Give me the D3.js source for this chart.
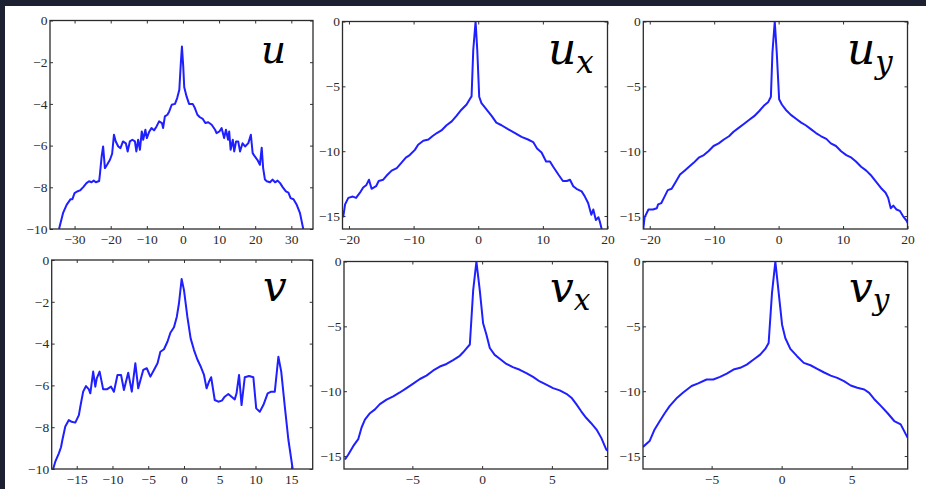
<!DOCTYPE html>
<html>
<head>
<meta charset="utf-8">
<script src="https://cdn.jsdelivr.net/npm/d3@7"></script>
<style>
  body { margin: 0; background: #1d2030; }
  svg { display: block; }
</style>
</head>
<body>
<svg id="chart" width="926" height="489"></svg>
<script>
// Values (x = offset, y = log value)

// u
var uX = [-34.3,-33.2,-32.2,-31.1,-30.6,-30,-29.3,-28.5,-27.6,-26.7,-26,-25.3,-24.7,-24.1,-23.2,-23,-22.5,-22.1,-21.6,-21,-20.2,-19.6,-19.1,-18.6,-17.9,-17.3,-16.6,-15.8,-15.3,-14.7,-14,-13.3,-12.9,-12.4,-11.9,-11.4,-11,-10.4,-10,-9.3,-8.7,-8,-7.3,-6.6,-5.8,-5.5,-5,-4.3,-3.8,-3.1,-2.2,-1.6,-1,-0.64,-0.28,0.08,0.36,1,1.7,2.7,3.3,4,4.7,5.5,6.2,7,7.95,8.9,9.3,10.1,10.7,11.4,11.9,12.5,12.8,13.2,13.8,14.2,14.7,15.3,15.8,16.5,17.2,18.1,18.8,19.3,19.9,20.6,21.3,21.8,22.2,22.7,23.2,24.1,24.8,25.5,26.2,26.9,27.6,28.5,29.2,29.8,30.6,31.5,32.4,33.3];
var uY = [-10,-9.24,-8.84,-8.57,-8.57,-8.28,-8.2,-8.15,-7.99,-7.8,-7.71,-7.76,-7.68,-7.76,-7.7,-7.4,-6.52,-6.04,-7.08,-6.92,-6.68,-6.39,-5.48,-5.8,-6.04,-6.12,-5.8,-5.89,-6.28,-5.8,-5.72,-5.8,-6.28,-5.72,-6.2,-5.32,-5.72,-5.24,-5.64,-5.32,-5.16,-5.27,-5.08,-4.84,-4.92,-5.16,-4.6,-4.52,-4.36,-4.04,-4.0,-3.72,-3.32,-2.2,-1.25,-2.2,-3.2,-3.64,-4.0,-4.0,-4.2,-4.52,-4.64,-4.72,-4.92,-4.88,-5.0,-5.24,-5.4,-5.32,-5.16,-5.64,-5.24,-5.72,-5.32,-6.2,-5.72,-6.28,-5.8,-5.8,-6.28,-5.89,-6.04,-5.88,-5.48,-6.36,-6.52,-6.68,-6.92,-6.1,-7.08,-7.63,-7.71,-7.76,-7.63,-7.76,-7.68,-7.8,-7.99,-8.2,-8.26,-8.52,-8.57,-8.84,-9.24,-10];

// u_x
var uxX = [-20.9,-20.6,-20.1,-19.4,-18.9,-18.3,-17.8,-17.3,-16.9,-16.5,-15.8,-15.4,-14.7,-14.2,-13.4,-12.6,-11.9,-11.2,-10.6,-9.8,-9.3,-8.5,-7.7,-7.1,-6.4,-5.7,-4.9,-4.1,-3.4,-2.6,-1.8,-1.2,-1.03,-0.77,-0.41,-0.15,0.15,0.5,1.3,2.1,2.8,3.6,4.6,5.7,6.7,7.7,8.5,9.1,9.8,10.5,11.1,11.6,12.4,13.1,13.7,14.2,14.7,15.2,16.0,16.5,17.0,17.5,17.8,18.2,18.6,18.8,19.1];
var uxY = [-15.1,-14.1,-13.6,-13.5,-13.6,-13.2,-12.8,-12.6,-12.2,-12.9,-12.7,-12.3,-12.2,-11.9,-11.5,-11.3,-10.9,-10.5,-10.3,-9.9,-9.5,-9.2,-9.1,-8.85,-8.6,-8.4,-8.0,-7.7,-7.3,-6.8,-6.4,-5.9,-5.77,-2.2,0,-2.2,-5.8,-6.3,-6.8,-7.3,-7.8,-8.0,-8.3,-8.6,-8.9,-9.1,-9.3,-9.8,-10.1,-10.8,-10.8,-11.2,-11.8,-12.3,-12.3,-12.2,-12.7,-12.9,-13.1,-13.5,-14.0,-14.9,-14.5,-15.3,-15.1,-15.4,-16];

// u_y
var uyX = [-21.0,-20.8,-20.2,-19.5,-18.9,-18.7,-18.2,-17.7,-17.2,-16.6,-16.0,-15.3,-14.6,-13.9,-13.2,-12.4,-11.6,-10.9,-10.1,-9.3,-8.5,-7.7,-7.0,-6.2,-5.4,-4.6,-3.8,-3.0,-2.3,-1.6,-1.2,-0.96,-0.6,-0.29,0.08,0.5,1.1,1.9,2.7,3.5,4.2,5.0,5.8,6.6,7.4,8.1,8.9,9.7,10.5,11.3,12.0,12.8,13.6,14.4,15.2,16.0,16.6,17.0,17.4,17.8,18.3,18.8,19.3,19.9,20.1];
var uyY = [-16,-15.1,-14.5,-14.5,-14.4,-14.1,-14.0,-13.5,-13.0,-12.9,-12.4,-11.8,-11.5,-11.2,-10.9,-10.5,-10.3,-10.0,-9.6,-9.4,-9.1,-8.85,-8.5,-8.2,-7.9,-7.6,-7.3,-6.9,-6.5,-6.2,-5.8,-2.4,0,-2.4,-6.0,-6.4,-6.8,-7.2,-7.5,-7.8,-8.0,-8.3,-8.6,-8.85,-9.05,-9.4,-9.6,-10.0,-10.3,-10.5,-10.8,-11.2,-11.5,-11.9,-12.4,-12.9,-13.2,-13.6,-14.4,-14.2,-14.5,-14.6,-15.0,-15.4,-15.6];

// v
var vX = [-18.3,-18.0,-17.5,-17.2,-17.0,-16.6,-16.1,-15.7,-15.2,-14.7,-14.5,-14.1,-13.7,-13.3,-13.1,-12.7,-12.4,-12.2,-11.8,-11.3,-10.8,-10.2,-9.8,-9.3,-8.8,-8.4,-7.8,-7.3,-6.8,-6.4,-5.7,-5.2,-4.7,-4.2,-3.7,-3.3,-2.8,-2.3,-1.9,-1.4,-1.0,-0.7,-0.33,0.0,0.47,0.93,1.4,1.86,2.3,2.8,3.16,3.5,3.8,4.3,4.8,5.3,5.7,6.2,6.65,7.1,7.35,7.7,8.05,8.5,9.1,9.7,10.1,10.6,11.1,11.7,12.2,12.7,13.2,13.6,14.1,14.6,15.2];
var vY = [-10,-9.65,-9.25,-8.96,-8.6,-7.97,-7.66,-7.74,-7.78,-7.42,-7.02,-6.3,-6.03,-6.19,-6.38,-5.34,-6.06,-5.66,-5.34,-6.19,-6.19,-6.06,-6.3,-5.5,-5.5,-6.22,-5.39,-6.3,-4.94,-6.14,-5.26,-5.18,-5.58,-5.26,-4.94,-4.39,-4.27,-3.9,-3.48,-3.22,-2.71,-2.07,-0.91,-1.44,-2.71,-3.75,-4.31,-4.75,-5.07,-5.5,-6.14,-5.82,-5.61,-6.7,-6.78,-6.73,-6.54,-6.41,-6.54,-6.67,-6.38,-5.5,-6.94,-5.61,-5.55,-5.61,-7.1,-7.26,-6.94,-6.38,-6.3,-6.3,-4.63,-5.34,-7.02,-8.6,-10];

// v_x
var vxX = [-9.83,-9.6,-9.24,-8.88,-8.64,-8.4,-8.04,-7.68,-7.33,-6.85,-6.37,-5.9,-5.42,-4.94,-4.46,-3.99,-3.5,-3.03,-2.55,-2.08,-1.6,-1.36,-1.12,-0.88,-0.64,-0.41,-0.17,0.07,0.31,0.55,0.9,1.26,1.74,2.2,2.7,3.17,3.65,4.13,4.6,5.08,5.56,6.04,6.4,6.75,7.1,7.47,7.8,8.2,8.54,8.9,9.0];
var vxY = [-15.27,-14.9,-14.24,-13.7,-12.8,-12.2,-11.7,-11.4,-11.0,-10.65,-10.4,-10.1,-9.76,-9.42,-9.06,-8.8,-8.4,-8.1,-7.9,-7.6,-7.27,-7.0,-6.7,-6.4,-2.2,0,-2.2,-4.76,-5.65,-6.67,-7.2,-7.5,-7.9,-8.14,-8.35,-8.6,-8.9,-9.25,-9.5,-9.76,-9.94,-10.2,-10.5,-11.0,-11.55,-12.07,-12.45,-12.96,-13.6,-14.5,-14.6];

// v_y
var vyX = [-9.9,-9.43,-9.07,-8.7,-8.35,-8.0,-7.46,-7.03,-6.43,-5.96,-5.36,-4.88,-4.4,-3.92,-3.44,-2.96,-2.49,-2.0,-1.53,-1.17,-0.93,-0.69,-0.45,-0.21,0.03,0.26,0.62,1.1,1.58,2.06,2.54,3.0,3.5,3.97,4.45,4.93,5.4,5.9,6.25,6.6,7.1,7.57,8.04,8.5,8.87,9.0];
var vyY = [-14.3,-13.85,-12.95,-12.3,-11.7,-11.15,-10.5,-10.1,-9.6,-9.4,-9.1,-9.1,-8.9,-8.64,-8.33,-8.2,-7.95,-7.56,-7.18,-6.74,-6.28,-2.44,0,-2.44,-4.87,-5.9,-6.74,-7.3,-7.82,-8.0,-8.28,-8.54,-8.8,-8.97,-9.23,-9.56,-9.74,-9.87,-10.13,-10.6,-11.15,-11.7,-12.3,-12.56,-13.33,-13.6];

// axis ticks
var uXTicks = [-30, -20, -10, 0, 10, 20, 30];
var uYTicks = [0, -2, -4, -6, -8, -10];
var derivXTicks = [-20, -10, 0, 10, 20];
var derivYTicks = [0, -5, -10, -15];
var vXTicks = [-15, -10, -5, 0, 5, 10, 15];
var vYTicks = [0, -2, -4, -6, -8, -10];
var vDerivXTicks = [-5, 0, 5];

var svg = d3.select("#chart");

// white page over the dark frame
svg.append("rect")
    .attr("x", 5).attr("y", 6)
    .attr("width", 921).attr("height", 483)
    .attr("fill", "#ffffff");

var panels = [
  {id: "u",  main: "u", sub: "",  xs: uX,  ys: uY,  xDomain: [-36.8, 36], yDomain: [-10, 0], xTicks: uXTicks, yTicks: uYTicks,
   box: {left: 50, top: 20.5, right: 313, bottom: 229}, label: {x: 261, y: 63, size: 39}},
  {id: "ux", main: "u", sub: "x", xs: uxX, ys: uxY, xDomain: [-21, 20], yDomain: [-16, 0], xTicks: derivXTicks, yTicks: derivYTicks,
   box: {left: 342.5, top: 21.5, right: 607.5, bottom: 229}, label: {x: 548, y: 63.5, size: 44}},
  {id: "uy", main: "u", sub: "y", xs: uyX, ys: uyY, xDomain: [-21, 20], yDomain: [-16, 0], xTicks: derivXTicks, yTicks: derivYTicks,
   box: {left: 643.3, top: 21.5, right: 907.5, bottom: 229}, label: {x: 847, y: 64, size: 44}},
  {id: "v",  main: "v", sub: "",  xs: vX,  ys: vY,  xDomain: [-18.5, 18], yDomain: [-10, 0], xTicks: vXTicks, yTicks: vYTicks,
   box: {left: 51.7, top: 260, right: 312.7, bottom: 469}, label: {x: 263, y: 301, size: 42}},
  {id: "vx", main: "v", sub: "x", xs: vxX, ys: vxY, xDomain: [-9.9, 9], yDomain: [-16, 0], xTicks: vDerivXTicks, yTicks: derivYTicks,
   box: {left: 344, top: 261.5, right: 607.7, bottom: 469}, label: {x: 550, y: 301.5, size: 42}},
  {id: "vy", main: "v", sub: "y", xs: vyX, ys: vyY, xDomain: [-9.9, 9], yDomain: [-16, 0], xTicks: vDerivXTicks, yTicks: derivYTicks,
   box: {left: 643, top: 261.5, right: 907.7, bottom: 469}, label: {x: 849, y: 301.5, size: 42}}
];

var fmt = d3.format("d");

panels.forEach(function(p) {
    var b = p.box;
    var w = b.right - b.left, h = b.bottom - b.top;

    var x = d3.scaleLinear().domain(p.xDomain).range([0, w]);
    var y = d3.scaleLinear().domain(p.yDomain).range([h, 0]);

    var g = svg.append("g").attr("transform", "translate(" + b.left + "," + b.top + ")");

    g.append("clipPath").attr("id", "clip-" + p.id)
      .append("rect").attr("width", w).attr("height", h);

    // ticks point inward on all four sides, like matlab
    var bottom = g.append("g").attr("transform", "translate(0," + h + ")")
        .call(d3.axisBottom(x).tickValues(p.xTicks).tickSizeInner(-3).tickSizeOuter(0).tickPadding(5.5).tickFormat(fmt));
    var left = g.append("g")
        .call(d3.axisLeft(y).tickValues(p.yTicks).tickSizeInner(-3).tickSizeOuter(0).tickPadding(2.5).tickFormat(fmt));
    var top = g.append("g")
        .call(d3.axisTop(x).tickValues(p.xTicks).tickSizeInner(-3).tickSizeOuter(0).tickFormat(""));
    var right = g.append("g").attr("transform", "translate(" + w + ",0)")
        .call(d3.axisRight(y).tickValues(p.yTicks).tickSizeInner(-3).tickSizeOuter(0).tickFormat(""));

    [bottom, left, top, right].forEach(function(a) {
        a.select(".domain").remove();
        a.selectAll("line").attr("stroke", "#333").attr("stroke-width", 1);
        a.selectAll("text")
            .style("font-family", "'Liberation Serif', serif")
            .style("font-size", "13.5px")
            .attr("fill", "#2a2a2a");
    });

    var line = d3.line()
        .x(function(d) { return x(d[0]); })
        .y(function(d) { return y(d[1]); });

    g.append("path")
        .datum(d3.zip(p.xs, p.ys))
        .attr("clip-path", "url(#clip-" + p.id + ")")
        .attr("d", line)
        .attr("fill", "none")
        .attr("stroke", "#1f1fff")
        .attr("stroke-width", 2)
        .attr("stroke-linejoin", "round");

    // frame
    g.append("rect")
        .attr("width", w).attr("height", h)
        .attr("fill", "none")
        .attr("stroke", "#2b2b2b")
        .attr("stroke-width", 1.3);

    // variable name in the corner
    var t = svg.append("text")
        .attr("x", p.label.x).attr("y", p.label.y)
        .style("font-family", "'DejaVu Serif', serif")
        .style("font-style", "italic")
        .attr("fill", "#000");
    t.append("tspan").style("font-size", p.label.size + "px").text(p.main);
    if (p.sub) {
        t.append("tspan")
            .style("font-size", (p.label.size * 0.7) + "px")
            .attr("dy", p.label.size * 0.21)
            .text(p.sub);
    }
});
</script>
</body>
</html>
